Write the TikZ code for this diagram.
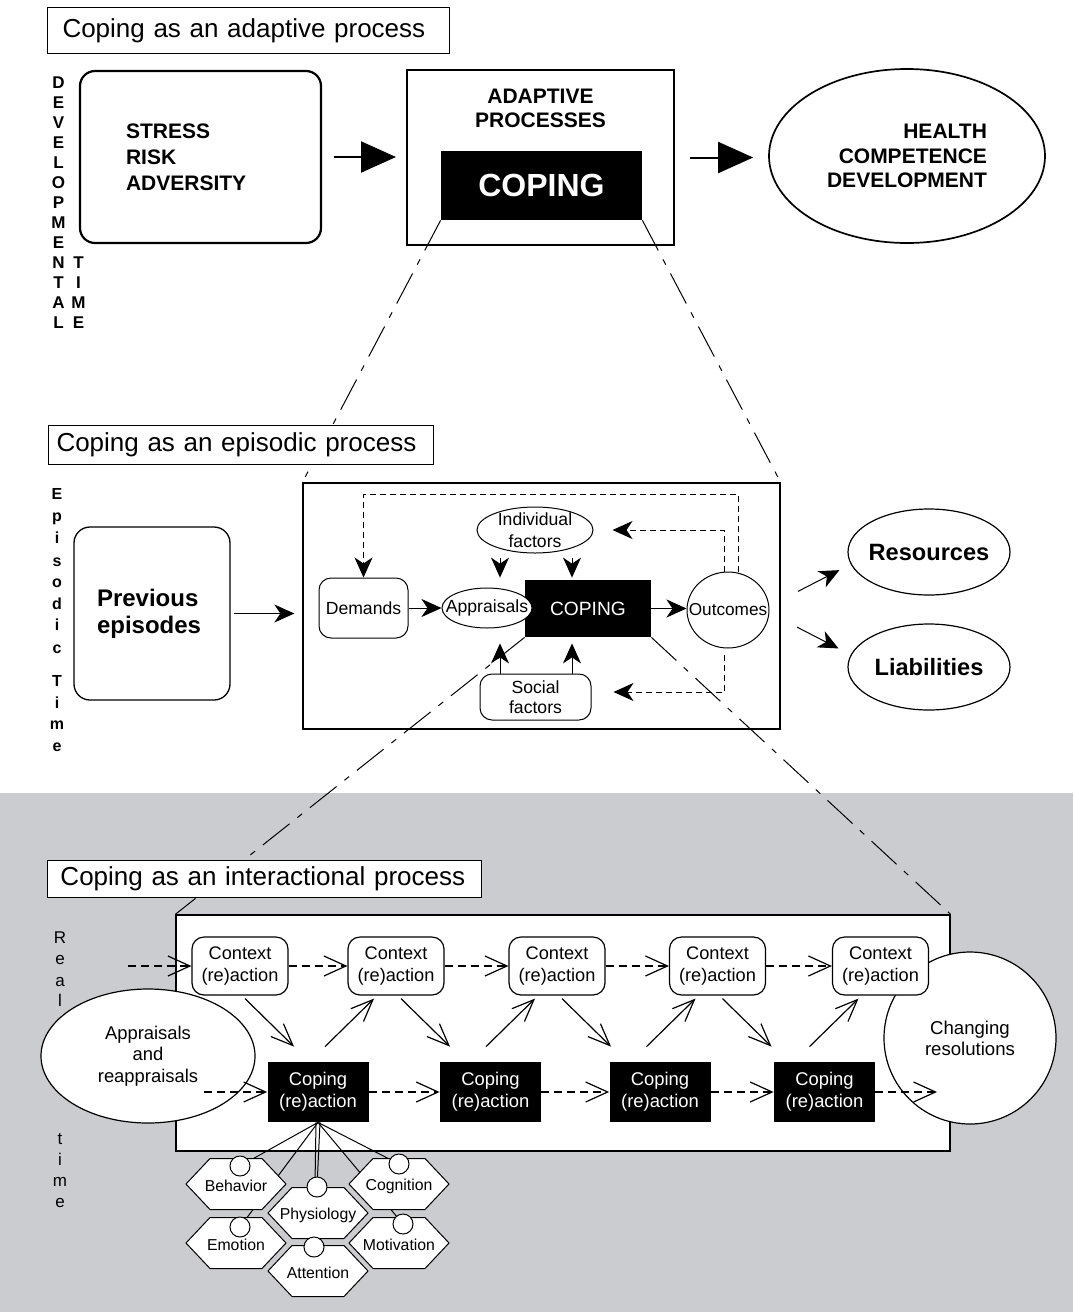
\documentclass[tikz,border=0pt]{standalone}
\usepackage{fontspec}
\setmainfont{Liberation Sans}
\usetikzlibrary{arrows.meta,calc,positioning,shapes.geometric}
\definecolor{bggray}{RGB}{203,204,207}
\newcommand{\infnt}{\fontsize{8.8}{10.8}\selectfont}
\newcommand{\capfnt}{\bfseries\fontsize{10.5}{13}\selectfont}
% hexagon cell: name, x, y, text
\newcommand{\hexcell}[4]{%
  \draw[hexline] (#2-50,#3) -- (#2-26,#3-25.5) -- (#2+26,#3-25.5)
    -- (#2+50,#3) -- (#2+26,#3+25.5) -- (#2-26,#3+25.5) -- cycle;
  \node[hexlbl] (#1) at (#2,#3+2) {#4};
}

\begin{document}
\begin{tikzpicture}[x=0.5pt,y=-0.5pt,
    ttl/.style={draw,fill=white,line width=0.5pt,align=left,inner ysep=0pt,
      anchor=north west,font=\fontsize{13}{16}\selectfont},
    vlet/.style={inner sep=0pt,text height=6.5pt,text depth=0pt,
      font=\bfseries\fontsize{8.5}{10}\selectfont},
    rlet/.style={inner sep=0pt,text height=6.5pt,text depth=0pt,
      font=\fontsize{8.5}{10}\selectfont},
    softbox/.style={draw,rounded corners=7.5pt,line width=1.1pt,align=left},
    smallbox/.style={draw,fill=white,rounded corners=6pt,line width=0.5pt,
      inner sep=1pt,font=\infnt},
    oval/.style={ellipse,draw,fill=white,line width=0.5pt,inner sep=0pt},
    ctxbox/.style={draw,fill=white,rounded corners=6pt,line width=0.6pt,
      minimum width=48pt,minimum height=29pt,inner sep=1pt,align=center,
      font=\fontsize{9.1}{10.8}\selectfont},
    copbox/.style={fill=black,text=white,minimum width=50.5pt,minimum height=30pt,
      inner sep=1pt,align=center,font=\fontsize{9.2}{11}\selectfont},
    hexline/.style={draw,fill=white,line width=0.5pt},
    hexlbl/.style={inner sep=0pt,font=\fontsize{7.9}{9}\selectfont},
    knob/.style={circle,draw,fill=white,line width=0.5pt,minimum size=10pt,inner sep=0pt},
    arr/.style={-{Stealth[length=10pt,width=9pt,inset=3pt]},line width=0.5pt},
    dloop/.style={arr,dash pattern=on 3pt off 2pt},
    bigarrow/.style={-{Triangle[length=17.5pt,width=15.5pt]},line width=1pt},
    dflow/.style={-{Straight Barb[length=11pt,width=10pt]},line width=0.6pt,
      dash pattern=on 4pt off 2.5pt},
    diag/.style={-{Straight Barb[length=11pt,width=9pt]},line width=0.6pt},
    zoomline/.style={line width=0.5pt,dash pattern=on 17pt off 5pt on 3pt off 5pt},
    spoke/.style={line width=0.5pt}
  ]
  \useasboundingbox (0,0) rectangle (1073,1312);
  \fill[bggray] (0,793) rectangle (1073,1312);

  % adaptive level
  \node[ttl,text width=186pt,inner xsep=7.5pt,minimum height=23pt] (ttlad) at (47,7)
    {Coping as an adaptive process};
  \foreach \l [count=\i from 0] in {D,E,V,E,L,O,P,M,E,N,T,A,L}
    \node[vlet] (dv\i) at (58.5,82+20*\i) {\l};
  \foreach \l [count=\i from 0] in {T,I,M,E}
    \node[vlet] (tm\i) at (78.5,262+20*\i) {\l};
  \node[softbox,text width=74.5pt,inner xsep=23pt,minimum height=86pt,font=\capfnt]
    (stress) at (200.5,157) {STRESS\\RISK\\ADVERSITY};
  \node[draw,line width=1pt,minimum width=133.5pt,minimum height=87.5pt] (adapt) at (540.5,157.5) {};
  \node[align=center,font=\bfseries\fontsize{10.5}{12}\selectfont] (adlbl) at (540.5,108.5)
    {ADAPTIVE\\PROCESSES};
  \node[fill=black,text=white,minimum width=100.5pt,minimum height=34.5pt,
    font=\bfseries\fontsize{16}{19}\selectfont] (tcop) at (541.5,185.5) {COPING};
  \node[ellipse,draw,line width=0.85pt,minimum width=138pt,minimum height=87pt,align=right,
    font=\bfseries\fontsize{10.5}{12.3}\selectfont] (health) at (907,156)
    {HEALTH\\COMPETENCE\\DEVELOPMENT};
  \draw[bigarrow,shorten <=6pt,shorten >=5pt] (stress.east) -- (stress.east -| adapt.west);
  \draw[bigarrow,shorten <=7.5pt,shorten >=7.5pt] (adapt.east) -- (adapt.east -| health.west);

  % episodic level
  \node[draw,fill=white,line width=0.65pt,minimum width=238.5pt,minimum height=123pt] (epi) at (541.5,606) {};
  \draw[zoomline] (tcop.south west) -- (epi.north west);
  \draw[zoomline] (tcop.south east) -- (epi.north east);
  \node[ttl,text width=184.5pt,inner xsep=4pt,minimum height=19.5pt] (ttlep) at (48,425)
    {Coping as an episodic process};
  \foreach \l/\y [count=\i] in {E/493,p/515,i/537,s/560,o/581,d/603,i/624,c/647,T/680,i/702,m/723,e/745}
    \node[vlet,font=\bfseries\fontsize{8}{10}\selectfont] (ep\i) at (57,\y) {\l};
  \node[softbox,line width=0.65pt,rounded corners=8pt,text width=55pt,inner xsep=11.5pt,
    minimum height=86.5pt,font=\bfseries\fontsize{12}{13.5}\selectfont] (prev) at (152,613.5)
    {Previous\\episodes};
  \draw[arr,shorten <=1.5pt,shorten >=4pt] (prev.east) -- (prev.east -| epi.west);

  \node[smallbox,minimum width=44.5pt,minimum height=30pt] (dem) at (363.5,608) {Demands};
  \node[fill=black,text=white,minimum width=63pt,minimum height=28.5pt,
    font=\fontsize{9.6}{11}\selectfont] (mcop) at (588,608.5) {COPING};
  \node[oval,minimum width=45pt,minimum height=20pt] (app) at (487,608) {};
  \node[font=\infnt] (applbl) at (app) {Appraisals};
  \node[oval,minimum width=41pt,minimum height=38pt] (out) at (728,610) {};
  \node[font=\fontsize{8.6}{10}\selectfont] (outlbl) at (out) {Outcomes};
  \node[oval,minimum width=58pt,minimum height=23pt] (ind) at (535,530) {};
  \node[align=center,font=\infnt] (indlbl) at (ind) {Individual\\factors};
  \node[smallbox,minimum width=55.5pt,minimum height=23pt,align=center,
    font=\fontsize{8.8}{10}\selectfont] (soc) at (535.5,697) {Social\\factors};

  \draw[arr] (dem.east) -- (app.west);
  \draw[arr] (mcop.east) -- (mcop.east -| out.west);
  \draw[arr,shorten >=1pt] ([xshift=-17.5pt,yshift=-2pt]ind.south) -- ([xshift=-17.5pt]ind.south |- mcop.north);
  \draw[arr,shorten >=1pt] ([xshift=18.5pt,yshift=-2pt]ind.south) -- ([xshift=18.5pt]ind.south |- mcop.north);
  \draw[arr,shorten >=3pt] ([xshift=-17.75pt]soc.north) -- ([xshift=-17.75pt]soc.north |- mcop.south);
  \draw[arr,shorten >=3pt] ([xshift=18.25pt]soc.north) -- ([xshift=18.25pt]soc.north |- mcop.south);

  % feedback loops
  \coordinate (looptop) at (738,494);
  \draw[dloop] (out.north -| looptop) -- (looptop) -| (dem.north);
  \draw[dloop,shorten >=9.5pt] ([xshift=-2pt]out.north) |- (ind.east);
  \draw[dloop,shorten <=3pt,shorten >=11pt] ([xshift=-2pt]out.south) |- ([yshift=2.5pt]soc.east);

  \node[oval,line width=0.6pt,minimum width=81pt,minimum height=43pt] (res) at (929,552) {};
  \node[font=\bfseries\fontsize{11.8}{13}\selectfont] (reslbl) at (res) {Resources};
  \node[oval,line width=0.6pt,minimum width=81pt,minimum height=43pt] (lia) at (929,667) {};
  \node[font=\bfseries\fontsize{11.8}{13}\selectfont] (lialbl) at (lia) {Liabilities};
  \draw[arr,shorten <=16pt,shorten >=4.5pt] ([yshift=2pt]out.east) -- ([yshift=-7pt]res.west);
  \draw[arr,shorten <=15.5pt,shorten >=5pt] ([yshift=-1.5pt]out.east) -- ([yshift=7pt]lia.west);

  % interactional level
  \node[draw,fill=white,line width=0.65pt,minimum width=387pt,minimum height=118pt] (bot) at (563,1033) {};
  \draw[zoomline] (mcop.south west) -- (bot.north west);
  \draw[zoomline] (mcop.south east) -- (bot.north east);
  \node[ttl,text width=204pt,inner xsep=6.5pt,minimum height=18.5pt] (ttlin) at (47,860)
    {Coping as an interactional process};
  \foreach \l/\y [count=\i] in {R/937,e/958,a/980,l/1000,t/1138,i/1159,m/1180,e/1201}
    \node[rlet] (rt\i) at (60,\y) {\l};

  \node[oval,line width=0.6pt,minimum width=107pt,minimum height=67pt,align=center,
    font=\fontsize{9.2}{10.8}\selectfont] (reap) at (148,1056) {Appraisals\\and\\reappraisals};
  \node[circle,draw,fill=white,line width=0.6pt,minimum size=86pt,inner sep=0pt,align=center,
    font=\fontsize{9.3}{10.4}\selectfont] (chg) at (970,1038) {Changing\\resolutions};
  \foreach \x [count=\i] in {240,396,557,717.5,880.5}
    \node[ctxbox] (ctx\i) at (\x,966) {Context\\(re)action};
  \foreach \x [count=\i] in {318,490.5,660,824.5}
    \node[copbox] (cop\i) at (\x,1092) {Coping\\(re)action};

  \coordinate (ctxin) at (128,966);
  \coordinate (copin) at (204,1092);
  \coordinate (copout) at (937,1092);
  \draw[dflow] (ctxin) -- (ctx1.west);
  \foreach \i/\j in {1/2,2/3,3/4,4/5}
    \draw[dflow] (ctx\i.east) -- (ctx\j.west);
  \draw[dflow] (copin) -- (cop1.west);
  \foreach \i/\j in {1/2,2/3,3/4}
    \draw[dflow] (cop\i.east) -- (cop\j.west);
  \draw[dflow] (cop4.east) -- (copout);
  \foreach \k/\n/\a/\b in {1/2/-24/7,2/3/-40.5/-4.5,3/4/-49/-13.5,4/5/-53/-15}{
    \draw[diag] ($(ctx\k.south)+(5,3)$) -- ($(cop\k.north)+(\a,-15)$);
    \draw[diag] ($(cop\k.north)+(\b,-15)$) -- ($(ctx\n.south)+(-22,3)$);
  }

  % components of a coping reaction
  \coordinate (kB) at (240,1166);
  \coordinate (kC) at (399,1164);
  \coordinate (kP) at (317,1187);
  \coordinate (kE) at (240,1227);
  \coordinate (kM) at (403,1224);
  \coordinate (kA) at (314,1247);
  \foreach \k in {kB,kC,kE,kM}
    \draw[spoke] (cop1.south) -- (\k);
  \draw[spoke] ($(cop1.south)+(2,0)$) -- (kP);
  \draw[spoke] ($(cop1.south)+(-2,0)$) -- (kA);
  \hexcell{hB}{236}{1184}{Behavior}
  \hexcell{hC}{399}{1184}{Cognition}
  \hexcell{hP}{318}{1213}{Physiology}
  \hexcell{hE}{236}{1243}{Emotion}
  \hexcell{hM}{399}{1243}{Motivation}
  \hexcell{hA}{318}{1271}{Attention}
  \foreach \k in {kB,kC,kP,kE,kM,kA}
    \node[knob] (n\k) at (\k) {};
\end{tikzpicture}
\end{document}
